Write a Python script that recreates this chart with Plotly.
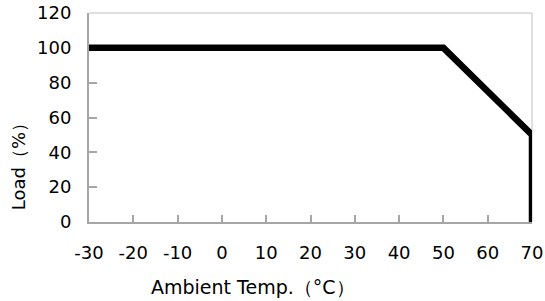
import plotly.graph_objects as go

temps = [-30, 50, 70, 70]
loads = [100, 100, 50, 0]
x_ticks = [-30, -20, -10, 0, 10, 20, 30, 40, 50, 60, 70]
x_labels = ["-30", "-20", "-10", "0", "10", "20", "30", "40", "50", "60", "70"]
y_ticks = [0, 20, 40, 60, 80, 100, 120]
x_title = "Ambient Temp.（°C）"
y_title = "Load（%）"

FONT = "DejaVu Sans"
fig = go.Figure()
fig.add_trace(go.Scatter(x=temps, y=loads, mode="lines",
                         line=dict(color="black", width=6.5), showlegend=False))

fig.update_layout(
    width=545, height=301,
    margin=dict(l=89, r=13, t=13, b=79),
    plot_bgcolor="white", paper_bgcolor="white",
    font=dict(family=FONT, size=18, color="black"),
    shapes=[
        dict(type="line", xref="paper", yref="paper", x0=0, x1=1, y0=1, y1=1,
             layer="below", line=dict(color="#d4d4d4", width=1.5)),
        dict(type="line", xref="paper", yref="paper", x0=1, x1=1, y0=0, y1=1,
             layer="below", line=dict(color="#d4d4d4", width=1.5)),
    ],
    annotations=[
        dict(text=x_title, xref="paper", yref="paper", x=0.370, y=-0.311,
             xanchor="center", yanchor="middle", showarrow=False,
             font=dict(size=19)),
        dict(text=y_title, xref="paper", yref="paper", x=-0.160, y=0.287,
             xanchor="center", yanchor="middle", showarrow=False, textangle=-90,
             font=dict(size=18)),
    ],
)
fig.update_xaxes(range=[-30, 70], tickvals=x_ticks, ticktext=x_labels,
                 ticks="inside", ticklen=7, automargin=False, layer="below traces",
                 tickwidth=1.5, tickcolor="#a6a6a6", showline=True, linecolor="#a6a6a6",
                 linewidth=2, showgrid=False, zeroline=False, ticklabelstandoff=13,
                 tickfont=dict(size=18))
fig.update_yaxes(range=[0, 120], tickvals=y_ticks, ticks="inside", ticklen=8,
                 automargin=False, layer="below traces",
                 tickwidth=1.5, tickcolor="#a6a6a6", showline=True, linecolor="#a6a6a6",
                 linewidth=2, showgrid=False, zeroline=False, ticklabelstandoff=12,
                 tickfont=dict(size=18))
fig.write_html("out.html", config={"displayModeBar": False},
               post_script="document.body.style.margin='0';document.body.style.overflow='hidden';")
